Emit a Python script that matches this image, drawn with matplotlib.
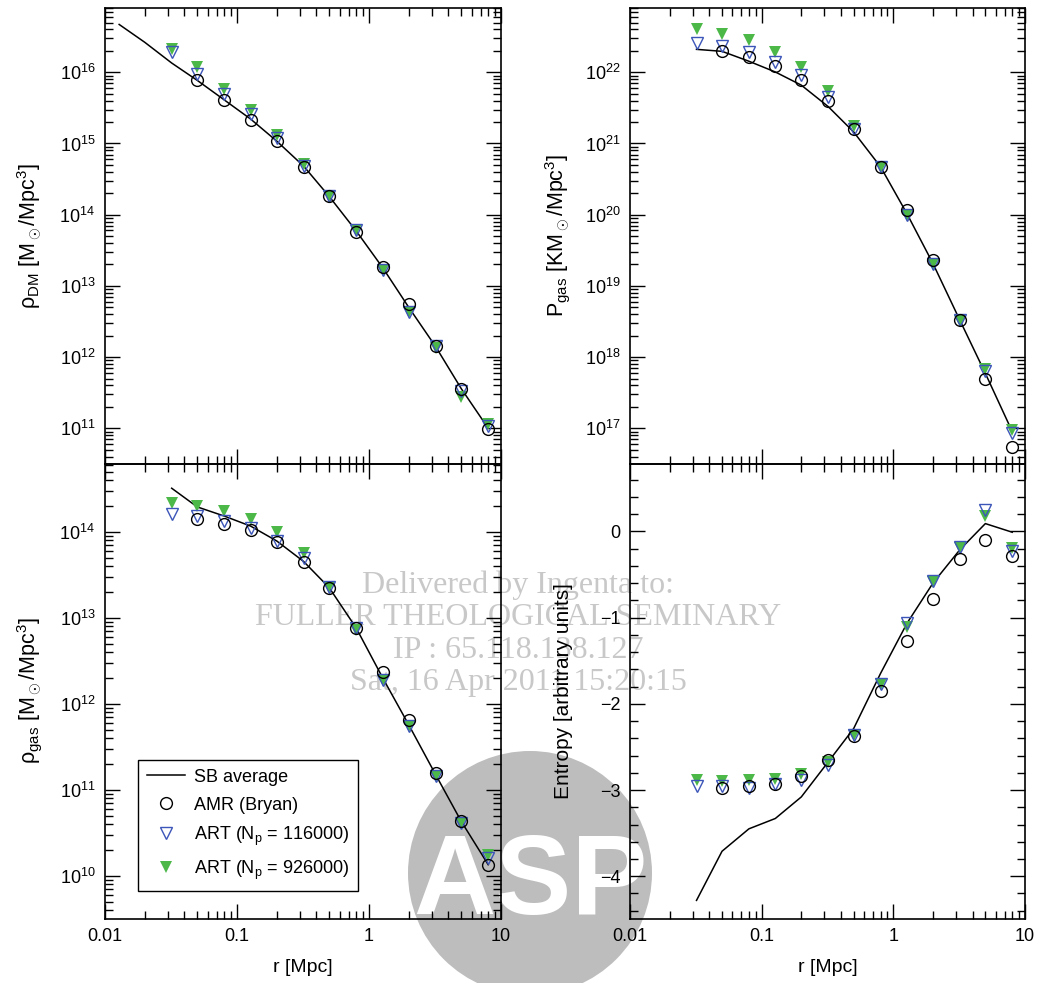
import numpy as np
import matplotlib.pyplot as plt
from matplotlib.ticker import LogLocator, MultipleLocator, NullFormatter
from matplotlib.patches import Ellipse

plt.rcParams['font.family'] = ['Liberation Sans', 'DejaVu Sans']
plt.rcParams['mathtext.fontset'] = 'custom'
plt.rcParams['mathtext.rm'] = 'Liberation Sans'
plt.rcParams['mathtext.it'] = 'Liberation Sans:italic'
plt.rcParams['mathtext.bf'] = 'Liberation Sans:bold'

# radii of the simulation bins [Mpc]
r = [0.032, 0.05, 0.08, 0.127, 0.2, 0.32, 0.5, 0.8, 1.27, 2.0, 3.2, 5.0, 8.0]
r_amr = r[1:]

# dark matter density
dm_line_r = [0.0128, 0.02, 0.032, 0.05, 0.08, 0.127, 0.2, 0.32, 0.5, 0.8, 1.27, 2.0, 3.2, 5.0, 8.0]
dm_line = [4.7e16, 2.64e16, 1.35e16, 7.7e15, 4.1e15, 2.2e15, 1.08e15, 4.8e14, 1.8e14, 5.9e13,
           1.8e13, 5.0e12, 1.4e12, 3.6e11, 1.0e11]
dm_amr = [7.7e15, 4.1e15, 2.17e15, 1.07e15, 4.7e14, 1.81e14, 5.7e13, 1.87e13, 5.5e12, 1.42e12, 3.6e11, 0.97e11]
dm_art1 = [1.93e16, 9.45e15, 5.0e15, 2.57e15, 1.21e15, 4.8e14, 1.81e14, 6.0e13, 1.66e13, 4.3e12,
           1.42e12, 3.34e11, 1.08e11]
dm_art2 = [2.15e16, 1.19e16, 5.9e15, 3.0e15, 1.3e15, 5.2e14, 1.81e14, 6.0e13, 1.66e13, 4.3e12,
           1.32e12, 2.75e11, 1.14e11]

# gas pressure
p_line = [2.1e22, 1.97e22, 1.43e22, 1.01e22, 6.6e21, 3.3e21, 1.45e21, 4.7e20, 1.03e20, 2.06e19,
          3.3e18, 5.9e17, 9.0e16]
p_amr = [1.97e22, 1.62e22, 1.21e22, 7.9e21, 4.0e21, 1.58e21, 4.7e20, 1.17e20, 2.3e19, 3.3e18, 4.9e17, 5.5e16]
p_art1 = [2.58e22, 2.34e22, 1.93e22, 1.4e22, 9.1e21, 4.5e21, 1.62e21, 4.7e20, 1.0e20, 2.06e19,
          3.3e18, 6.4e17, 8.5e16]
p_art2 = [4.1e22, 3.5e22, 2.82e22, 1.93e22, 1.19e22, 5.5e21, 1.75e21, 4.7e20, 1.0e20, 2.06e19,
          3.2e18, 6.7e17, 9.4e16]

# gas density
g_line = [3.2e14, 1.94e14, 1.52e14, 1.16e14, 7.8e13, 4.5e13, 2.23e13, 7.6e12, 2.0e12, 5.7e11,
          1.5e11, 4.3e10, 1.35e10]
g_amr = [1.39e14, 1.24e14, 1.04e14, 7.6e13, 4.5e13, 2.19e13, 7.7e12, 2.34e12, 6.5e11, 1.55e11, 4.4e10, 1.35e10]
g_art1 = [1.59e14, 1.52e14, 1.33e14, 1.11e14, 7.9e13, 4.9e13, 2.26e13, 7.5e12, 1.9e12, 5.5e11,
          1.44e11, 4.1e10, 1.6e10]
g_art2 = [2.18e14, 1.99e14, 1.74e14, 1.39e14, 9.9e13, 5.6e13, 2.26e13, 7.3e12, 1.9e12, 5.5e11,
          1.44e11, 4.1e10, 1.75e10]

# entropy
s_line = [-4.28, -3.71, -3.45, -3.33, -3.08, -2.674, -2.286, -1.647, -1.066, -0.6, -0.213, 0.09, -0.01]
s_amr = [-2.977, -2.953, -2.926, -2.84, -2.647, -2.376, -1.852, -1.267, -0.786, -0.317, -0.097, -0.29]
s_art1 = [-2.957, -2.957, -2.973, -2.934, -2.88, -2.713, -2.364, -1.771, -1.058, -0.581, -0.186, 0.244, -0.232]
s_art2 = [-2.887, -2.895, -2.887, -2.868, -2.81, -2.674, -2.364, -1.771, -1.105, -0.593, -0.19, 0.174, -0.193]

blue = '#3b55b8'
green = '#4cb848'
W, H = 1039, 983


def box(x0, y0, x1, y1):
    return [x0 / W, 1 - y1 / H, (x1 - x0) / W, (y1 - y0) / H]


def style(ax, logy=True):
    ax.set_facecolor('none')
    ax.set_xscale('log')
    ax.set_xlim(0.01, 10)
    ax.xaxis.set_minor_locator(LogLocator(base=10, subs=np.arange(2, 10), numticks=20))
    ax.xaxis.set_minor_formatter(NullFormatter())
    if logy:
        ax.set_yscale('log')
        ax.yaxis.set_major_locator(LogLocator(base=10, numticks=20))
        ax.yaxis.set_minor_locator(LogLocator(base=10, subs=np.arange(2, 10), numticks=20))
        ax.yaxis.set_minor_formatter(NullFormatter())
    ax.tick_params(which='both', direction='in', top=True, right=True, width=1, labelsize=13)
    ax.tick_params(which='major', length=11, pad=7)
    ax.tick_params(which='minor', length=5.5)
    for s in ax.spines.values():
        s.set_linewidth(1.2)


def draw(ax, rl, line, amr, art1, art2):
    h0, = ax.plot(rl, line, color='black', lw=1.1, label='SB average')
    h3, = ax.plot(r, art2, 'v', color=green, ms=8.5, mew=0, label=r'ART (N$_{\rm p}$ = 926000)')
    h2, = ax.plot(r, art1, 'v', mfc='none', mec=blue, ms=8.5, mew=1.0, label=r'ART (N$_{\rm p}$ = 116000)')
    h1, = ax.plot(r_amr, amr, 'o', mfc='none', mec='black', ms=8.5, mew=1.0, label='AMR (Bryan)')
    return [h0, h1, h2, h3]


fig = plt.figure(figsize=(10.39, 9.83), dpi=100)
ax_dm = fig.add_axes(box(105, 8, 501, 463.5))
ax_p = fig.add_axes(box(630, 8, 1025, 463.5))
ax_g = fig.add_axes(box(105, 463.5, 501, 918.5))
ax_s = fig.add_axes(box(630, 463.5, 1025, 918.5))

for ax in (ax_dm, ax_p, ax_g):
    style(ax)
style(ax_s, logy=False)

draw(ax_dm, dm_line_r, dm_line, dm_amr, dm_art1, dm_art2)
draw(ax_p, r, p_line, p_amr, p_art1, p_art2)
handles = draw(ax_g, r, g_line, g_amr, g_art1, g_art2)
draw(ax_s, r, s_line, s_amr, s_art1, s_art2)

ax_dm.set_ylim(3.2e10, 8e16)
ax_p.set_ylim(3.2e16, 8e22)
ax_g.set_ylim(3.2e9, 6.2e14)
ax_s.set_ylim(-4.49, 0.787)
ax_s.yaxis.set_minor_locator(MultipleLocator(0.2))
ax_s.set_yticks([0, -1, -2, -3, -4])
ax_s.set_yticklabels(['0', '\u22121', '\u22122', '\u22123', '\u22124'])

for ax in (ax_dm, ax_p):
    ax.tick_params(labelbottom=False)
ax_g.set_xticks([0.01, 0.1, 1, 10])
ax_g.set_xticklabels(['0.01', '0.1', '1', '10'])
ax_s.set_xticks([0.01, 0.1, 1, 10])
ax_s.set_xticklabels(['0.01', '0.1', '1', '10'])

ax_dm.set_ylabel('ρ$_{\\rm DM}$ [M$_\\odot$/Mpc$^3$]', labelpad=11, fontsize=15.5)
ax_p.set_ylabel('P$_{\\rm gas}$ [KM$_\\odot$/Mpc$^3$]', labelpad=9, fontsize=15.5)
ax_g.set_ylabel('ρ$_{\\rm gas}$ [M$_\\odot$/Mpc$^3$]', labelpad=11, fontsize=15.5)
ax_s.set_ylabel('Entropy [arbitrary units]', labelpad=19, fontsize=15)
ax_g.set_xlabel('r [Mpc]', labelpad=10, fontsize=14)
ax_s.set_xlabel('r [Mpc]', labelpad=10, fontsize=14)

leg = ax_g.legend(handles=handles, loc='lower left', bbox_to_anchor=(0.083, 0.061), borderaxespad=0,
                  fontsize=13, numpoints=1, handlelength=2.1, handletextpad=0.5, labelspacing=0.6,
                  fancybox=False, framealpha=1, edgecolor='black', borderpad=0.5)
leg.get_frame().set_linewidth(1.0)

# publisher watermark (behind the transparent axes)
wm = ['Delivered by Ingenta to:', 'FULLER THEOLOGICAL SEMINARY', 'IP : 65.118.138.127',
      'Sat, 16 Apr 2011 15:20:15']
for i, t in enumerate(wm):
    fig.text(518 / W, 1 - (585 + 32.5 * i) / H, t, ha='center', va='center', family='Liberation Serif',
             fontsize=23, color='#c8c8c8', zorder=-1)

disc = Ellipse((530 / W, 1 - 873 / H), 244 / W, 244 / H, transform=fig.transFigure,
               facecolor='#bdbdbd', edgecolor='none', zorder=-2)
fig.patches.append(disc)
asp = fig.text(530 / W, 1 - 885 / H, 'ASP', ha='center', va='center', fontsize=82, weight='bold',
               color='white', zorder=-1.5)
asp.set_clip_path(disc)

fig.savefig('out.png', dpi=100)
